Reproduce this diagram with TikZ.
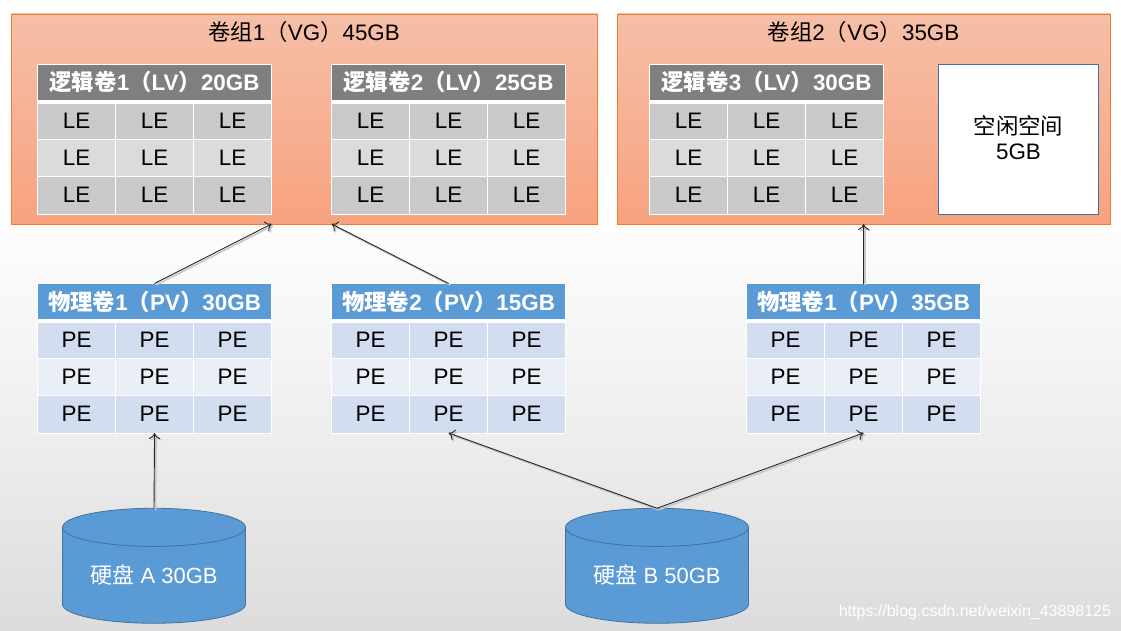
\documentclass[tikz,border=0pt]{standalone}
\usepackage{fontspec}
\setmainfont{Liberation Sans}
\newfontfamily\cjk{Noto Sans CJK SC}
\usetikzlibrary{shapes.geometric, arrows.meta}
\newcommand{\zh}[1]{{\cjk #1}}
\newcommand{\fsize}[1]{\fontsize{#1}{25}\selectfont}
\definecolor{orangeline}{HTML}{ED7D31}
\definecolor{vgtop}{HTML}{F6BFA8}
\definecolor{vgbottom}{HTML}{F8A27F}
\definecolor{greyhead}{HTML}{7F7F7F}
\definecolor{greyodd}{HTML}{C9C9C9}
\definecolor{greyeven}{HTML}{DBDBDB}
\definecolor{bluehead}{HTML}{5B9BD5}
\definecolor{blueodd}{HTML}{D2DEEF}
\definecolor{blueeven}{HTML}{EAEFF7}
\definecolor{diskline}{HTML}{41719C}
\definecolor{floormid}{HTML}{EFEFEF}
\definecolor{floorend}{HTML}{DCDCDC}
% name, x, y, title, head colour, odd row, even row, cell text
\newcommand{\voltable}[8]{
    \node[tablebase, anchor=north west] (#1) at (#2,#3) {};
    \node[headcell, fill=#5, anchor=north west] (#1-head) at (#2,#3) {#4};
    \foreach \row/\rowtop/\rowh/\rowfill in {1/39/35.5/#6, 2/74.5/37.5/#7, 3/112/37.5/#6} {
        \foreach \col in {1,2,3} {
            \node[bodycell, fill=\rowfill, minimum height=\rowh pt, anchor=north west]
                (#1-\row-\col) at ({#2+(\col-1)*77.97},{#3+\rowtop}) {#8};
        }
    }
}
\begin{document}
\begin{tikzpicture}[x=1pt, y=-1pt,
    every node/.style={outer sep=0pt, inner sep=0pt},
    tablebase/.style={fill=white, draw=white, minimum width=233.9pt, minimum height=149.5pt},
    headcell/.style={draw=white, line width=0.8pt, minimum width=233.9pt, minimum height=36pt, text=white, font=\fsize{22.4}\bfseries},
    bodycell/.style={draw=white, line width=0.8pt, minimum width=77.97pt, font=\fsize{22.4}},
    vgbox/.style={draw=orangeline, line width=0.8pt, top color=vgtop, bottom color=vgbottom, anchor=north west, minimum height=210pt},
    disk/.style={cylinder, shape border rotate=90, shape aspect=0.3, draw=diskline, fill=bluehead, line width=0.8pt,
        minimum width=183pt, minimum height=115pt, text=white, font=\fsize{22}},
    link/.style={-{To[length=6pt, width=11pt]}, line width=0.9pt, black!85,
        preaction={draw=black!22, line width=1.6pt, transform canvas={xshift=1.5pt, yshift=-1.5pt}}}]
    \useasboundingbox (0,0) rectangle (1121,631);
    \fill[white] (0,0) rectangle (1121,631);
    \shade[top color=white, bottom color=floormid] (0,200) rectangle (1121,420);
    \shade[top color=floormid, bottom color=floorend] (0,420) rectangle (1121,631);

    % volume groups
    \node[vgbox, minimum width=586pt] (vgone) at (11.5,14) {};
    \node[vgbox, minimum width=493pt] (vgtwo) at (617.5,14) {};
    \node[font=\fsize{22.4}] (vgonetitle) at (304,32) {\zh{卷组}1\zh{（}VG\zh{）}45GB};
    \node[font=\fsize{22.4}] (vgtwotitle) at (863.5,32) {\zh{卷组}2\zh{（}VG\zh{）}35GB};
    \node[draw=diskline, line width=0.8pt, fill=white, anchor=north west, minimum width=160pt, minimum height=150pt] (freespace) at (938.5,64.5) {};
    \node[align=center, font=\fsize{22.4}] (freelabel) at ([yshift=2pt]freespace.center) {\zh{空闲空间}\\5GB};

    % logical volumes
    \voltable{lvone}{37.6}{64.5}{\zh{逻辑卷}1\zh{（}LV\zh{）}20GB}{greyhead}{greyodd}{greyeven}{LE}
    \voltable{lvtwo}{331.6}{64.5}{\zh{逻辑卷}2\zh{（}LV\zh{）}25GB}{greyhead}{greyodd}{greyeven}{LE}
    \voltable{lvthree}{649.6}{64.5}{\zh{逻辑卷}3\zh{（}LV\zh{）}30GB}{greyhead}{greyodd}{greyeven}{LE}

    % physical volumes
    \voltable{pvone}{37.6}{283.5}{\zh{物理卷}1\zh{（}PV\zh{）}30GB}{bluehead}{blueodd}{blueeven}{PE}
    \voltable{pvtwo}{331.6}{283.5}{\zh{物理卷}2\zh{（}PV\zh{）}15GB}{bluehead}{blueodd}{blueeven}{PE}
    \voltable{pvthree}{746.6}{283.5}{\zh{物理卷}1\zh{（}PV\zh{）}35GB}{bluehead}{blueodd}{blueeven}{PE}

    % disks
    \node[disk] (diska) at (154,575.5) {\raisebox{-7.5pt}[0pt][0pt]{\zh{硬盘} A 30GB}};
    \node[disk] (diskb) at (657,575.5) {\raisebox{-7.5pt}[0pt][0pt]{\zh{硬盘} B 50GB}};

    \coordinate (vgonea) at (lvone.east |- vgone.south);
    \coordinate (vgoneb) at (lvtwo.west |- vgone.south);
    \coordinate (vgtwoa) at (pvthree.north |- vgtwo.south);

    \draw[link] (pvone.north) -- (vgonea);
    \draw[link] (pvtwo.north) -- (vgoneb);
    \draw[link] (pvthree.north) -- (vgtwoa);
    \draw[link] (diska.north) -- (pvone.south);
    \draw[link] (diskb.north) -- (pvtwo.south);
    \draw[link] (diskb.north) -- (pvthree.south);

    \node[text=white, font=\fsize{16}, anchor=east] (weburl) at (1111,612) {https://blog.csdn.net/weixin\_43898125};
\end{tikzpicture}
\end{document}
